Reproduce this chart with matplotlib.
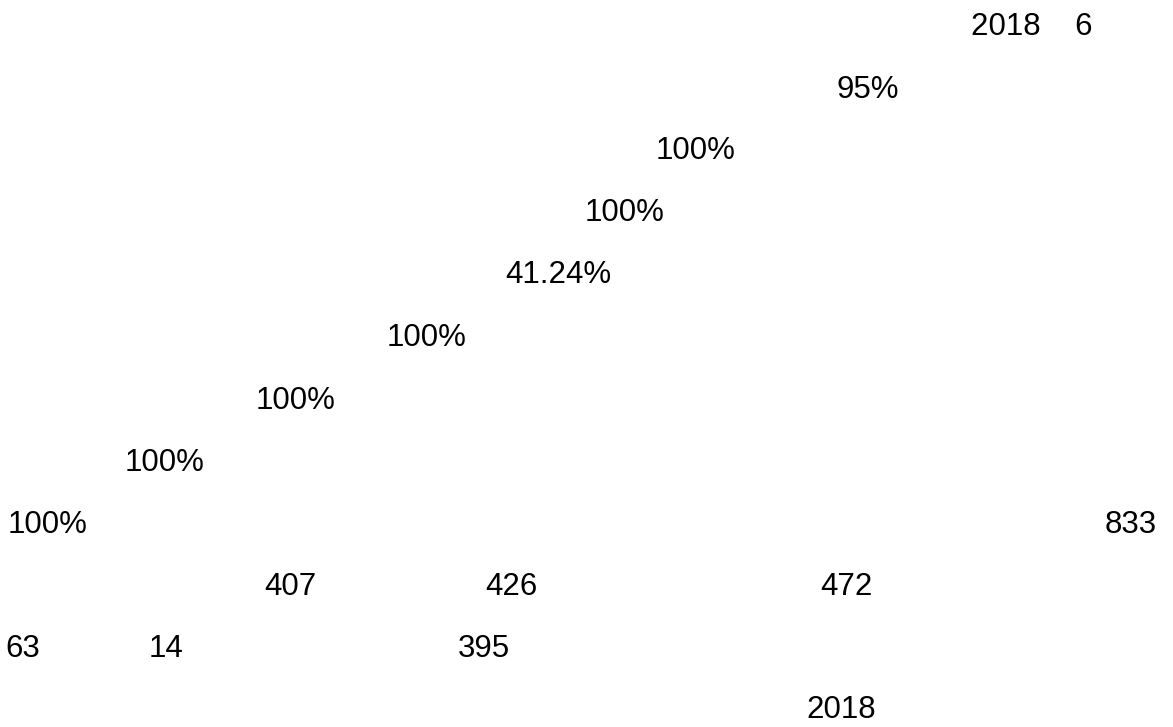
import matplotlib
matplotlib.use("Agg")
import matplotlib.pyplot as plt

# texto visible del original (los caracteres CJK no se ven en la referencia)
fecha = "2018    6"
tasas = ["95%", "100%", "100%", "41.24%", "100%", "100%", "100%", "100%"]
cifras = [833, 407, 426, 472, 63, 14, 395]
anio = "2018"

# posiciones (px desde la izquierda, línea base en px desde arriba)
pos_fecha = (971, 35)
pos_tasas = [(836, 98), (656, 159), (585, 221), (505, 283),
             (387, 346), (256, 409), (125, 471), (8, 533)]
pos_cifras = [(1105, 533), (264, 595), (485, 595), (820, 595),
              (5, 657), (149, 657), (458, 657)]
pos_anio = (806, 718)

plt.rcParams["font.family"] = ["Liberation Sans", "DejaVu Sans"]
fig = plt.figure(figsize=(11.73, 7.27), dpi=100)
ax = fig.add_axes([0, 0, 1, 1])
ax.set_xlim(0, 1173)
ax.set_ylim(727, 0)
ax.axis("off")

kw = dict(fontsize=22.5, color="black", ha="left", va="baseline")
ax.text(*pos_fecha, fecha, **kw)
for t, (x, y) in zip(tasas, pos_tasas):
    ax.text(x, y, t, **kw)
for c, (x, y) in zip(cifras, pos_cifras):
    ax.text(x, y, str(c), **kw)
ax.text(*pos_anio, anio, **kw)

fig.savefig("out.png", dpi=100, facecolor="white")
